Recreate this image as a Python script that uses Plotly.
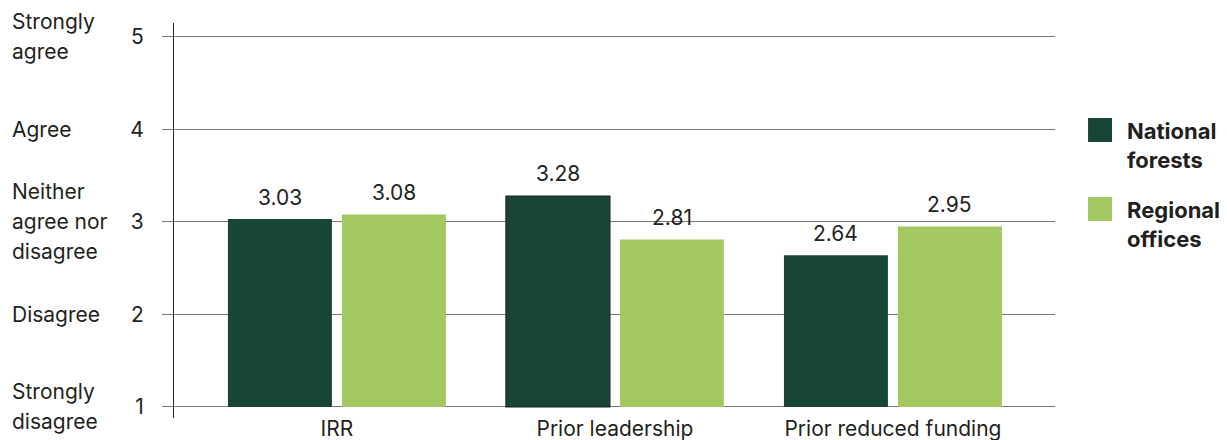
import plotly.graph_objects as go

# ---- data ----
categories = ["IRR", "Prior leadership", "Prior reduced funding"]
national_forests = [3.03, 3.28, 2.64]
regional_offices = [3.08, 2.81, 2.95]
series_names = ["National<br>forests", "Regional<br>offices"]
scale_values = [1, 2, 3, 4, 5]
scale_labels = ["Strongly<br>disagree", "Disagree", "Neither<br>agree nor<br>disagree",
                "Agree", "Strongly<br>agree"]

# ---- style ----
DARK = "#174636"
LIGHT = "#a3c761"
TXT = "#231f20"
FONT = "Inter, Liberation Sans, Arial, sans-serif"
FS = 21
BASE = 1
W = 0.374
OFFS = [-0.392, 0.018]
colors = [DARK, LIGHT]
series = [national_forests, regional_offices]

fig = go.Figure()
for s, (vals, col, off) in enumerate(zip(series, colors, OFFS)):
    fig.add_trace(go.Bar(
        x=categories, y=[v - BASE for v in vals], base=BASE,
        offset=off, width=W,
        marker=dict(color=col, line=dict(width=[0, 1.2, 0] if s == 0 else 0, color="#222")),
        name=series_names[s].replace("<br>", " "),
        customdata=vals, hovertemplate="%{x}: %{customdata}<extra></extra>",
        showlegend=False,
    ))

annotations = []
# value labels
for vals, off in zip(series, OFFS):
    for i, v in enumerate(vals):
        annotations.append(dict(
            x=i + off + W / 2, y=v, xref="x", yref="y", text=f"{v:.2f}",
            showarrow=False, yanchor="middle", yshift=22,
            font=dict(size=FS, color=TXT, family=FONT)))

# left scale descriptions
for val, lab in zip(scale_values, scale_labels):
    lines = lab.split("<br>")
    n = len(lines)
    for j, ln in enumerate(lines):
        annotations.append(dict(
            x=-0.1862, y=val, xref="paper", yref="y", text=ln, showarrow=False,
            xanchor="left", yanchor="middle", yshift=((n - 1) / 2 - j) * 30,
            font=dict(size=FS, color=TXT, family=FONT)))

# legend (custom)
shapes = []
leg_y = [0.7291, 0.5291]
for name, col, yc in zip(series_names, colors, leg_y):
    shapes.append(dict(type="rect", xref="paper", yref="paper",
                       x0=1.0375, x1=1.0647, y0=yc - 0.0304, y1=yc + 0.0304,
                       fillcolor=col, line=dict(width=0)))
    for j, ln in enumerate(name.split("<br>")):
        annotations.append(dict(
            x=1.0795, y=yc - 0.0025 - j * 0.0734, xref="paper", yref="paper",
            text=f"<b>{ln}</b>", showarrow=False, xanchor="left", yanchor="middle",
            font=dict(size=22, color=TXT, family=FONT)))

# page body has an 8px margin: shrink the figure so the plot area lands where the reference has it
fig.update_layout(
    width=1219, height=432,
    margin=dict(l=166, r=172, t=15, b=22),
    plot_bgcolor="white", paper_bgcolor="white",
    barmode="overlay",
    font=dict(family=FONT, color=TXT, size=FS),
    annotations=annotations, shapes=shapes,
    showlegend=False,
)
fig.update_xaxes(
    type="category", range=[-0.586, 2.583], showgrid=False, showline=False,
    ticks="", zeroline=False, automargin=False,
    tickfont=dict(size=FS, color=TXT, family=FONT), ticklabelstandoff=-4,
)
fig.update_yaxes(
    range=[0.88, 5.15], tickvals=scale_values, showgrid=True, gridcolor="#777",
    gridwidth=1, ticks="outside", ticklen=11, tickcolor="#777", showline=True,
    linecolor="#222", linewidth=1, zeroline=False, automargin=False,
    tickfont=dict(size=FS, color=TXT, family=FONT), ticklabelstandoff=14,
)

fig.write_html("out.html")
